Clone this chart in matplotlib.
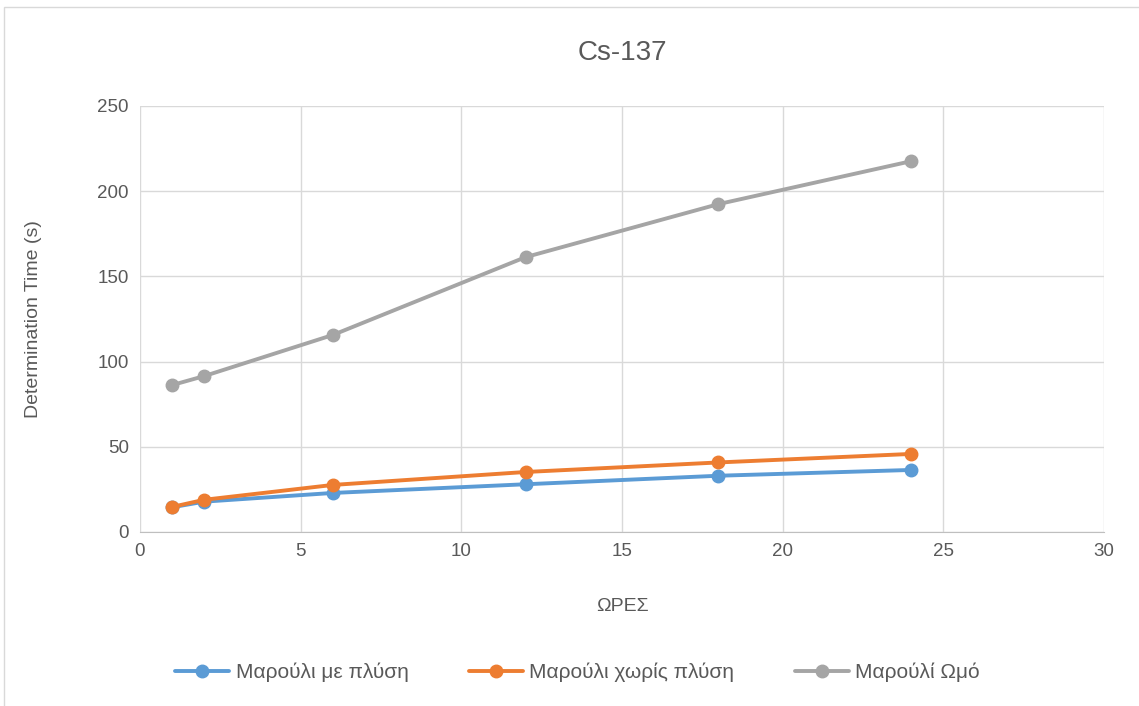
import matplotlib
matplotlib.use("Agg")
import matplotlib.pyplot as plt
from matplotlib.patches import Rectangle

plt.rcParams['font.family'] = ['Liberation Sans', 'DejaVu Sans']

hours = [1, 2, 6, 12, 18, 24]
with_wash = [14.5, 17.8, 22.9, 28.0, 33.0, 36.4]
without_wash = [14.7, 18.9, 27.6, 35.2, 40.8, 45.8]
raw = [86.2, 91.5, 115.6, 161.3, 192.4, 217.6]

labels = ['Μαρούλι με πλύση', 'Μαρούλι χωρίς πλύση', 'Μαρούλί Ωμό']
colors = ['#5b9bd5', '#ed7d31', '#a5a5a5']

fig = plt.figure(figsize=(11.39, 7.06), dpi=100)
fig.patches.append(Rectangle((0.0035, -0.01), 1.0, 1.0, transform=fig.transFigure,
                             fill=False, edgecolor='#d9d9d9', linewidth=1))
ax = fig.add_axes([0.1229, 0.2465, 0.9693 - 0.1229, 0.8499 - 0.2465])

for ys, lab, c in zip([with_wash, without_wash, raw], labels, colors):
    ax.plot(hours, ys, color=c, linewidth=2.8, marker='o', markersize=9, label=lab,
            solid_capstyle='round')

ax.set_xlim(0, 30)
ax.set_ylim(0, 250)
ax.set_xticks(range(0, 31, 5))
ax.set_yticks(range(0, 251, 50))
ax.grid(True, color='#d9d9d9', linewidth=1)
ax.set_axisbelow(True)
for s in ['top', 'right']:
    ax.spines[s].set_visible(False)
ax.spines['left'].set_visible(False)
ax.spines['bottom'].set_color('#bfbfbf')
ax.tick_params(length=0, labelsize=13.5, colors='#595959', pad=8)

ax.set_title('Cs-137', fontsize=20, color='#595959', pad=33)
ax.set_xlabel('ΩΡΕΣ', fontsize=14, color='#595959', labelpad=27)
ax.set_ylabel('Determination Time (s)', fontsize=14, color='#595959', labelpad=40)

fig.legend(loc='center', bbox_to_anchor=(0.507, 0.048), ncol=3, frameon=False,
           fontsize=15, labelcolor='#595959', handlelength=2.6, columnspacing=2.9,
           handletextpad=0.3)

fig.savefig('out.png', dpi=100)
